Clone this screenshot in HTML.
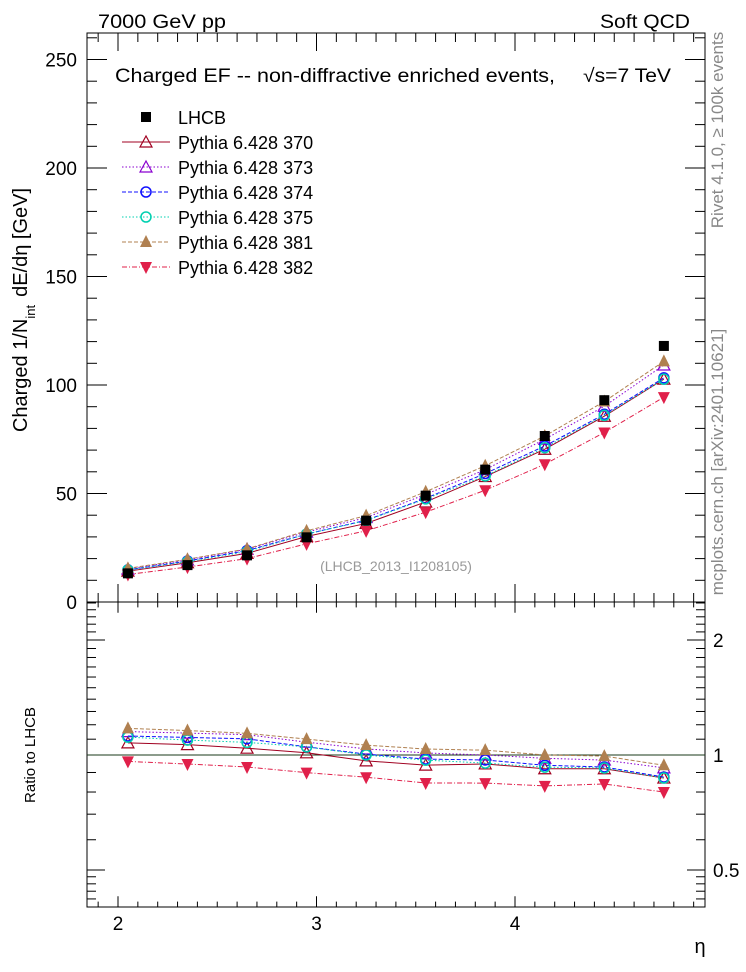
<!DOCTYPE html>
<html><head><meta charset="utf-8"><style>
html,body{margin:0;padding:0;background:#fff;}
svg{display:block;font-family:"Liberation Sans",sans-serif;}
</style></head><body>
<svg id="chart" width="746" height="972" viewBox="0 0 746 972" xmlns="http://www.w3.org/2000/svg">
<text x="98" y="28" font-size="19" textLength="128" lengthAdjust="spacingAndGlyphs">7000 GeV pp</text>
<text x="690" y="28" font-size="19" text-anchor="end" textLength="90" lengthAdjust="spacingAndGlyphs">Soft QCD</text>
<text x="115" y="82" font-size="19" textLength="440" lengthAdjust="spacingAndGlyphs">Charged EF -- non-diffractive enriched events,</text>
<text x="583" y="82" font-size="19" textLength="88" lengthAdjust="spacingAndGlyphs">√s=7 TeV</text>
<text x="396" y="571" font-size="14" fill="#999" text-anchor="middle">(LHCB_2013_I1208105)</text>
<text transform="translate(723,130) rotate(-90)" font-size="17" fill="#888" text-anchor="middle">Rivet 4.1.0, ≥ 100k events</text>
<text transform="translate(723,462) rotate(-90)" font-size="17" fill="#888" text-anchor="middle">mcplots.cern.ch [arXiv:2401.10621]</text>
<text transform="translate(27,310) rotate(-90)" font-size="20" text-anchor="middle">Charged 1/N<tspan font-size="13" dy="8">int</tspan><tspan dy="-8" dx="8">dE/dη [GeV]</tspan></text>
<text transform="translate(35,755) rotate(-90)" font-size="15" text-anchor="middle">Ratio to LHCB</text>
<text x="700" y="953" font-size="20" text-anchor="middle">η</text>
<g id="plot"></g>
</svg>
<script>
const etaValues = [2.05,2.35,2.65,2.95,3.25,3.55,3.85,4.15,4.45,4.75];
const lhcbValues = [13.2,17.0,21.5,29.8,37.5,49.0,61.0,76.5,93.0,118.0];
const py370Values = [14.2,18.1,22.4,30.2,36.2,46.1,57.8,70.4,85.6,102.7];
const py373Values = [15.2,19.4,24.3,32.2,38.9,49.6,61.0,75.0,90.2,109.2];
const py374Values = [14.8,18.9,23.7,31.3,37.7,47.8,59.2,71.9,86.5,103.3];
const py375Values = [14.7,18.6,23.2,31.3,37.5,47.5,58.1,71.1,86.0,102.7];
const py381Values = [15.5,19.7,24.5,32.8,39.8,50.8,62.8,76.5,92.4,110.9];
const py382Values = [12.7,16.1,20.0,26.8,32.8,41.4,51.5,63.5,78.1,94.4];
const mainTickLabels = [0,50,100,150,200,250];
const xTickLabels = [2,3,4];
const ratioTickLabels = [0.5,1,2];

const NS='http://www.w3.org/2000/svg';
const g=document.getElementById('plot');
const L=87,R=705,T=33,MB=602,RB=907;
const xs=v=>118+(v-2)*198.5;
const ym=v=>602-v*2.17;
const yr=v=>755-Math.log2(v)*115;
function el(tag,attrs,parent){const e=document.createElementNS(NS,tag);for(const k in attrs)e.setAttribute(k,attrs[k]);(parent||g).appendChild(e);return e;}
function line(x1,y1,x2,y2,extra){return el('line',Object.assign({x1,y1,x2,y2,stroke:'#000','stroke-width':1},extra||{}));}

const f1=el('rect',{x:L,y:T,width:R-L,height:MB-T,fill:'none',stroke:'#000','stroke-width':1});


const f2=el('rect',{x:L,y:MB,width:R-L,height:RB-MB,fill:'none',stroke:'#000','stroke-width':1});



for(let i=19;i<=49;i++){const v=i/10;const x=xs(v);if(x<L||x>R)continue;const major=(i%10===0);const len=major?18:9;
 line(x,MB,x,MB-len);line(x,T,x,T+len);line(x,MB,x,MB+len*0.6);line(x,RB,x,RB-len*0.6);}
xTickLabels.forEach(v=>{const t=el('text',{x:xs(v),y:930,'font-size':19,'text-anchor':'middle'});t.textContent=v;
 
 });
for(let v=0;v<=260;v+=10){const y=ym(v);if(y<T)continue;const len=(v%50===0)?20:10;line(L,y,L+len,y);line(R,y,R-len,y);}
mainTickLabels.forEach(v=>{const t=el('text',{x:77,y:ym(v)+7,'font-size':19,'text-anchor':'end'});t.textContent=v;
 
 });
const rMinor=[0.42,0.44,0.46,0.48,0.6,0.7,0.8,0.9,1.1,1.2,1.3,1.4,1.5,1.6,1.7,1.8,1.9,2.1,2.2,2.3,2.4,2.5];
rMinor.forEach(v=>{const y=yr(v);if(y<MB||y>RB)return;line(L,y,L+9,y);line(R,y,R-9,y);});
ratioTickLabels.forEach(v=>{const y=yr(v);line(L,y,L+18,y);line(R,y,R-18,y);
 const t=el('text',{x:713,y:y+7,'font-size':19});t.textContent=v;
 
 });
const ref=line(L,yr(1),R,yr(1),{stroke:'#1a3a1a'});



const series=[
 {name:'370',vals:py370Values,color:'#a00020',dash:'',marker:'tri-open'},
 {name:'373',vals:py373Values,color:'#8a00d0',dash:'1.5,2',marker:'tri-open'},
 {name:'374',vals:py374Values,color:'#1010ff',dash:'4,2',marker:'circ'},
 {name:'375',vals:py375Values,color:'#00d0b0',dash:'1.5,2',marker:'circ'},
 {name:'381',vals:py381Values,color:'#b08050',dash:'4,2',marker:'tri-fill'},
 {name:'382',vals:py382Values,color:'#e0204a',dash:'5,2,1,2',marker:'tri-down'}
];
function marker(type,x,y,color,parent){
 let e;
 if(type==='tri-open')e=el('polygon',{points:`${x},${y-6} ${x-6},${y+5} ${x+6},${y+5}`,fill:'none',stroke:color,'stroke-width':1.2},parent);
 else if(type==='tri-fill')e=el('polygon',{points:`${x},${y-7} ${x-6},${y+5} ${x+6},${y+5}`,fill:color},parent);
 else if(type==='tri-down')e=el('polygon',{points:`${x},${y+7} ${x-6},${y-5} ${x+6},${y-5}`,fill:color},parent);
 else if(type==='circ')e=el('circle',{cx:x,cy:y,r:5,fill:'none',stroke:color,'stroke-width':1.5},parent);
 else e=el('rect',{x:x-5,y:y-5,width:10,height:10,fill:color},parent);
 return e;
}
series.forEach(s=>{
 const grp=el('g',{});
 
 
 const pm=etaValues.map((e,i)=>xs(e)+','+ym(s.vals[i])).join(' ');
 el('polyline',{points:pm,fill:'none',stroke:s.color,'stroke-width':1,'stroke-dasharray':s.dash},grp);
 const pr=etaValues.map((e,i)=>xs(e)+','+yr(s.vals[i]/lhcbValues[i])).join(' ');
 el('polyline',{points:pr,fill:'none',stroke:s.color,'stroke-width':1,'stroke-dasharray':s.dash},grp);
 etaValues.forEach((e,i)=>{
  const m=marker(s.marker,xs(e),ym(s.vals[i]),s.color,grp);
  
  
  const r=marker(s.marker,xs(e),yr(s.vals[i]/lhcbValues[i]),s.color,grp);
  
  
 });
});
etaValues.forEach((e,i)=>{const m=marker('sq',xs(e),ym(lhcbValues[i]),'#000');
 
 });

const leg=el('g',{});


const legendLabels=['LHCB','Pythia 6.428 370','Pythia 6.428 373','Pythia 6.428 374','Pythia 6.428 375','Pythia 6.428 381','Pythia 6.428 382'];
legendLabels.forEach((lab,i)=>{
 const y=117+i*25;
 const eg=el('g',{},leg);
 
 
 if(i===0)marker('sq',146,y,'#000',eg);
 else{const s=series[i-1];el('line',{x1:122,y1:y,x2:170,y2:y,stroke:s.color,'stroke-width':1,'stroke-dasharray':s.dash},eg);marker(s.marker,146,y,s.color,eg);}
 const t=el('text',{x:178,y:y+7,'font-size':18},eg);t.textContent=lab;
});
</script>
</body></html>
